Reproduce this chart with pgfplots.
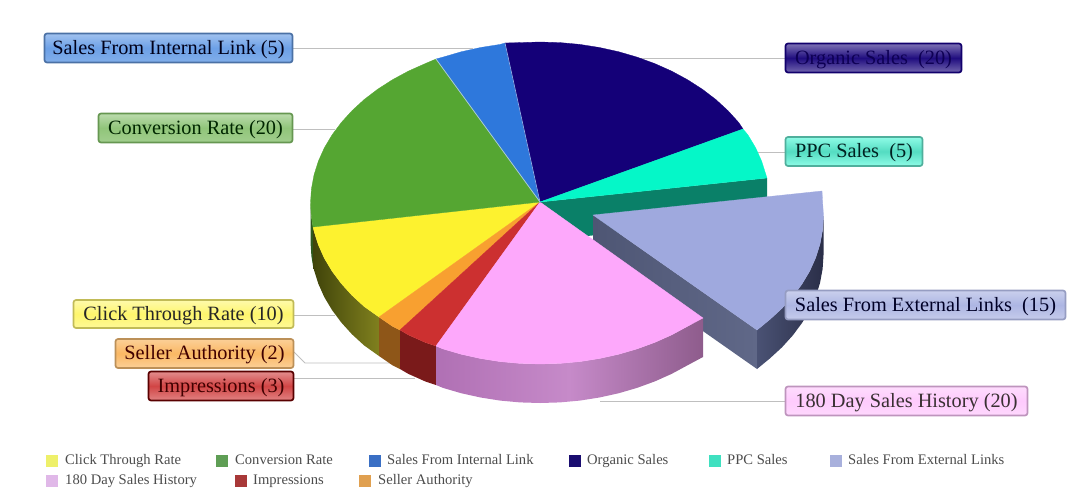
\documentclass[border=0pt]{standalone}
\usepackage{fontspec}
\setmainfont{Liberation Serif}
\usepackage{pgfplots}
\pgfplotsset{compat=1.18}
\definecolor{cYel}{HTML}{FDF22F}
\definecolor{cGrn}{HTML}{55A632}
\definecolor{cBlu}{HTML}{2E78DC}
\definecolor{cNav}{HTML}{140078}
\definecolor{cTea}{HTML}{05F7C8}
\definecolor{cPer}{HTML}{9FA9DE}
\definecolor{cPnk}{HTML}{FDA8FB}
\definecolor{cRed}{HTML}{CC3030}
\definecolor{cOrg}{HTML}{F8A030}
\definecolor{wTeal}{HTML}{0A8068}
\definecolor{wGrn}{HTML}{2E5A1E}
\definecolor{wYelA}{HTML}{40440A}
\definecolor{wYelB}{HTML}{80801E}
\definecolor{wOrg}{HTML}{8E5618}
\definecolor{wRed}{HTML}{7A1A1A}
\definecolor{wPerA}{HTML}{4E5674}
\definecolor{wPerB}{HTML}{606888}
\definecolor{wPerC}{HTML}{4A5274}
\definecolor{wPerD}{HTML}{2A2E48}
\definecolor{wPnkA}{HTML}{B070B4}
\definecolor{wPnkB}{HTML}{C68AC9}
\definecolor{wPnkC}{HTML}{8E5C8C}
\definecolor{sYel}{HTML}{EEF06A}
\definecolor{sGrn}{HTML}{5F9E55}
\definecolor{sBlu}{HTML}{3A6FC4}
\definecolor{sNav}{HTML}{1A0D70}
\definecolor{sTea}{HTML}{3FE0C0}
\definecolor{sPer}{HTML}{A8B0DC}
\definecolor{sPnk}{HTML}{E0B8E8}
\definecolor{sRed}{HTML}{A83838}
\definecolor{sOrg}{HTML}{E0A050}
\tikzset{labbox/.style n args={7}{anchor=center,inner sep=0pt,outer sep=0pt,
   minimum width=#1pt,minimum height=#2pt,rounded corners=2.5pt,
   draw=#4,line width=1.7pt,top color=#5,bottom color=#7,middle color=#6,
   text=#3,font=\fontsize{20.3}{22}\selectfont},
  legtxt/.style={anchor=west,inner sep=0pt,text height=10pt,text depth=3pt,text=black!70,font=\fontsize{14.6}{16}\selectfont}}
\newcommand{\T}[1]{\raisebox{-6pt}[0pt][0pt]{#1}}
\begin{document}
\begin{tikzpicture}
\useasboundingbox (0,0) rectangle (1080pt,499pt);
\begin{axis}[
  width=1080pt,height=499pt,scale only axis,at={(0,0)},anchor=south west,
  xmin=0,xmax=1080,ymin=0,ymax=499,y dir=reverse,
  hide axis,clip=false]
% leader lines
\addplot[draw=black!25,line width=0.8pt] coordinates {(293,48) (473,48)};
\addplot[draw=black!25,line width=0.8pt] coordinates {(293,129) (335,129)};
\addplot[draw=black!25,line width=0.8pt] coordinates {(785,58) (640,58)};
\addplot[draw=black!25,line width=0.8pt] coordinates {(785,152) (757,152)};
\addplot[draw=black!25,line width=0.8pt] coordinates {(785,401) (600,401)};
\addplot[draw=black!25,line width=0.8pt] coordinates {(294,315) (335,315)};
\addplot[draw=black!25,line width=0.8pt] coordinates {(294,352) (305,363) (392,363)};
\addplot[draw=black!25,line width=0.8pt] coordinates {(294,378) (415,378)};
% walls
\addplot[draw=none,fill=wTeal] coordinates {(540,202) (767,178) (767,217) (540,241)} --cycle;
\addplot[draw=none,fill=wGrn] coordinates {(310.5,203) (311.4,217) (313,227) (313,266) (311.4,256) (310.5,242)} --cycle;
\addplot[draw=none,left color=wYelA,right color=wYelB] coordinates {(313,227) (314,231) (318.3,244.7) (324.3,258.1) (332,271) (341.3,283.5) (352,295.3) (364.2,306.5) (379,317) (379,356) (364.2,345.5) (352,334.3) (341.3,322.5) (332,310) (324.3,297.1) (318.3,283.7) (314,270) (313,266)} --cycle;
\addplot[draw=none,fill=wOrg] coordinates {(379,317) (392.5,326.3) (400,330) (400,369) (392.5,365.3) (379,356)} --cycle;
\addplot[draw=none,fill=wRed] coordinates {(400,330) (408.4,334.9) (425.2,342.4) (436,346) (436,385) (425.2,381.4) (408.4,373.9) (400,369)} --cycle;
% exploded slice walls and top
\addplot[draw=none,left color=wPerA,right color=wPerB] coordinates {(593,215) (757,330) (757,369) (593,254)} --cycle;
\addplot[draw=none,left color=wPerC,right color=wPerD] coordinates {(757,330) (769.8,319.5) (782,308.3) (792.7,296.5) (802,284) (809.7,271.1) (815.7,257.7) (820,244) (822.6,230) (823.5,216) (823.5,255) (822.6,269) (820,283) (815.7,296.7) (809.7,310.1) (802,323) (792.7,335.5) (782,347.3) (769.8,358.5) (757,369)} --cycle;
\addplot[draw=cPer,fill=cPer,line width=0.3pt] coordinates {(593,215) (822,191) (822.6,202) (823.5,216) (822.6,230) (820,244) (815.7,257.7) (809.7,271.1) (802,284) (792.7,296.5) (782,308.3) (769.8,319.5) (757,330)} --cycle;
% pink wall
\addplot[draw=none,left color=wPnkA,right color=wPnkC,middle color=wPnkB] coordinates {(436,346) (443,348.9) (461.5,354.3) (480.6,358.5) (500.2,361.6) (520,363.4) (540,364) (560,363.4) (579.8,361.6) (599.4,358.5) (618.5,354.3) (637,348.9) (654.8,342.4) (671.6,334.9) (687.5,326.3) (703,318) (703,357) (687.5,365.3) (671.6,373.9) (654.8,381.4) (637,387.9) (618.5,393.3) (599.4,397.5) (579.8,400.6) (560,402.4) (540,403) (520,402.4) (500.2,400.6) (480.6,397.5) (461.5,393.3) (443,387.9) (436,385)} --cycle;
% top faces
\addplot[draw=cYel,fill=cYel,line width=0.3pt] coordinates {(540,202) (379,317) (364.2,306.5) (352,295.3) (341.3,283.5) (332,271) (324.3,258.1) (318.3,244.7) (314,231) (313,227)} --cycle;
\addplot[draw=cOrg,fill=cOrg,line width=0.3pt] coordinates {(540,202) (400,330) (392.5,326.3) (379,317)} --cycle;
\addplot[draw=cRed,fill=cRed,line width=0.3pt] coordinates {(540,202) (436,346) (425.2,342.4) (408.4,334.9) (400,330)} --cycle;
\addplot[draw=cPnk,fill=cPnk,line width=0.3pt] coordinates {(540,202) (703,318) (687.5,326.3) (671.6,334.9) (654.8,342.4) (637,348.9) (618.5,354.3) (599.4,358.5) (579.8,361.6) (560,363.4) (540,364) (520,363.4) (500.2,361.6) (480.6,358.5) (461.5,354.3) (443,348.9) (436,346)} --cycle;
\addplot[draw=cGrn,fill=cGrn,line width=0.3pt] coordinates {(540,202) (313,227) (311.4,217) (310.5,203) (311.4,189) (314,175) (318.3,161.3) (324.3,147.9) (332,135) (341.3,122.5) (352,110.7) (364.2,99.5) (377.7,89.2) (392.5,79.7) (408.4,71.1) (425.2,63.6) (436,59)} --cycle;
\addplot[draw=cBlu,fill=cBlu,line width=0.3pt] coordinates {(540,202) (436,59) (443,57.1) (461.5,51.7) (480.6,47.5) (500.2,44.4) (505,43)} --cycle;
\addplot[draw=cNav,fill=cNav,line width=0.3pt] coordinates {(540,202) (505,43) (520,42.6) (540,42) (560,42.6) (579.8,44.4) (599.4,47.5) (618.5,51.7) (637,57.1) (654.8,63.6) (671.6,71.1) (687.5,79.7) (702.3,89.2) (715.8,99.5) (728,110.7) (738.7,122.5) (743,129)} --cycle;
\addplot[draw=cTea,fill=cTea,line width=0.3pt] coordinates {(540,202) (743,129) (748,135) (755.7,147.9) (761.7,161.3) (766,175) (767,178)} --cycle;
% seams
\addplot[draw=cBlu!40!cGrn!40!white,line width=0.7pt] coordinates {(540,202) (436,59)};
\addplot[draw=cBlu!50!white,line width=0.6pt] coordinates {(540,202) (505,43)};
% legend swatches
\addplot[only marks,mark=square*,mark size=5.6pt,color=sYel] coordinates {(52,461)};
\addplot[only marks,mark=square*,mark size=5.6pt,color=sGrn] coordinates {(222,461)};
\addplot[only marks,mark=square*,mark size=5.6pt,color=sBlu] coordinates {(375,461)};
\addplot[only marks,mark=square*,mark size=5.6pt,color=sNav] coordinates {(575,461)};
\addplot[only marks,mark=square*,mark size=5.6pt,color=sTea] coordinates {(715,461)};
\addplot[only marks,mark=square*,mark size=5.6pt,color=sPer] coordinates {(836,461)};
\addplot[only marks,mark=square*,mark size=5.6pt,color=sPnk] coordinates {(52,481)};
\addplot[only marks,mark=square*,mark size=5.6pt,color=sRed] coordinates {(241,481)};
\addplot[only marks,mark=square*,mark size=5.6pt,color=sOrg] coordinates {(365,481)};
\node[legtxt] at (axis cs:65,461) {Click Through Rate};
\node[legtxt] at (axis cs:235,461) {Conversion Rate};
\node[legtxt] at (axis cs:387,461) {Sales From Internal Link};
\node[legtxt] at (axis cs:587,461) {Organic Sales};
\node[legtxt] at (axis cs:727,461) {PPC Sales};
\node[legtxt] at (axis cs:848,461) {Sales From External Links};
\node[legtxt] at (axis cs:65,481) {180 Day Sales History};
\node[legtxt] at (axis cs:253,481) {Impressions};
\node[legtxt] at (axis cs:378,481) {Seller Authority};
% labelled boxes
\node[labbox={248}{29}{black!90!blue}{cBlu!65!black!80!white}{cBlu!45!white}{cBlu!70!white}{cBlu!60!white}] at (axis cs:168.5,48) {\T{Sales From Internal Link (5)}};
\node[labbox={194}{29}{black!85!green}{cGrn!60!gray}{cGrn!40!white}{cGrn!65!white}{cGrn!55!white}] at (axis cs:195.5,128) {\T{Conversion Rate (20)}};
\node[labbox={176}{29}{cNav!70!black}{cNav!90!black}{cNav!55!white}{cNav!95!white}{cNav!60!white}] at (axis cs:873.5,58) {\T{Organic Sales\ \ (20)}};
\node[labbox={137}{29}{black!75!teal}{cTea!40!gray}{cTea!45!white}{cTea!70!gray!80!white}{cTea!45!white}] at (axis cs:854,151.5) {\T{PPC Sales\ \ (5)}};
\node[labbox={280}{29}{black!85!blue}{cPer!70!gray}{cPer!55!white}{cPer!85!white}{cPer!60!white}] at (axis cs:925.5,305) {\T{Sales From External Links\ \ (15)}};
\node[labbox={242}{29}{black!90!magenta}{cPnk!50!gray}{cPnk!40!white}{cPnk!60!white}{cPnk!45!white}] at (axis cs:906.5,401) {\T{180 Day Sales History (20)}};
\node[labbox={220}{28}{black!85}{olive!55!white}{cYel!40!white}{cYel!70!white}{cYel!50!white}] at (axis cs:183.5,314) {\T{Click Through Rate (10)}};
\node[labbox={178}{29}{black!75!red}{cOrg!50!gray}{cOrg!50!white}{cOrg!75!white}{cOrg!50!white}] at (axis cs:204.5,353.5) {\T{Seller Authority (2)}};
\node[labbox={145}{29}{black!75!red}{red!35!black}{cRed!55!white}{cRed!90!white}{cRed!60!white}] at (axis cs:221,386) {\T{Impressions (3)}};
\end{axis}
\end{tikzpicture}
\end{document}
